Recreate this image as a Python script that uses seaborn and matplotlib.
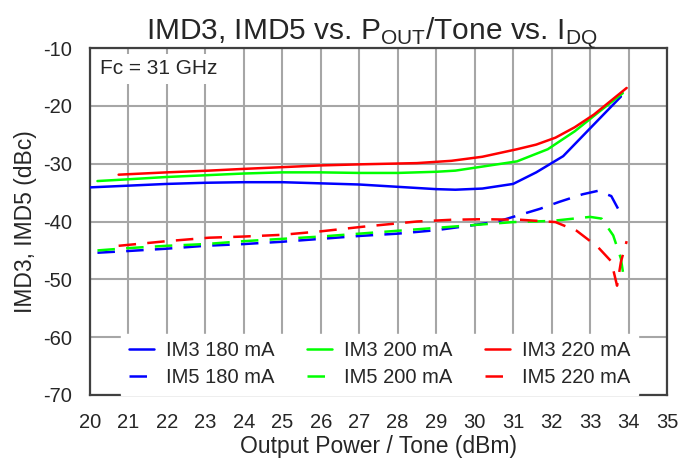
import pandas as pd
import seaborn as sns
import matplotlib.pyplot as plt
from matplotlib.lines import Line2D

# IM3 curves (solid) - output power per tone (dBm) vs dBc
p_im3_180 = [20.0, 21, 22, 23, 24, 25, 26, 27, 28, 29, 29.5, 30.2, 31.0, 31.6, 32.3, 33.1, 33.8]
im3_180 = [-34.1, -33.8, -33.5, -33.3, -33.2, -33.2, -33.4, -33.6, -34.0, -34.4, -34.5, -34.3, -33.5, -31.5, -28.7, -23.2, -18.4]

p_im3_200 = [20.2, 21, 22, 23, 24, 25, 26, 27, 28, 29, 29.5, 30.2, 31.1, 31.9, 32.6, 33.2, 33.85]
im3_200 = [-33.0, -32.7, -32.3, -32.0, -31.7, -31.5, -31.5, -31.6, -31.6, -31.4, -31.2, -30.5, -29.6, -27.5, -24.4, -21.2, -17.8]

p_im3_220 = [20.75, 22, 23.1, 24, 25, 26, 27.1, 28.5, 29.4, 30.2, 31.1, 31.6, 32.1, 32.6, 33.1, 33.95]
im3_220 = [-31.9, -31.5, -31.2, -30.9, -30.6, -30.3, -30.1, -29.9, -29.5, -28.8, -27.5, -26.7, -25.5, -23.7, -21.5, -16.9]

# IM5 curves (dashed)
p_im5_180 = [20.2, 21, 22, 23, 24, 25, 26, 27, 28, 29, 30, 30.6, 31.1, 31.7, 32.2, 32.8, 33.2, 33.55, 33.8]
im5_180 = [-45.4, -45.1, -44.7, -44.2, -43.9, -43.5, -43.0, -42.5, -42.1, -41.5, -40.6, -40.0, -39.0, -37.8, -36.6, -35.3, -34.7, -35.6, -38.7]

p_im5_200 = [20.2, 21, 22, 23, 24, 25, 26, 27, 28, 29, 30, 31, 32, 33, 33.3, 33.6, 33.8, 33.87]
im5_200 = [-45.0, -44.6, -44.2, -43.9, -43.4, -43.0, -42.6, -42.1, -41.6, -41.1, -40.6, -40.1, -39.9, -39.2, -39.5, -42.4, -46.4, -49.5]

p_im5_220 = [20.75, 22, 23.1, 24, 25, 26, 27.1, 28.5, 29.4, 30.2, 31.2, 32.1, 32.65, 33.2, 33.55, 33.7, 33.8, 33.95]
im5_220 = [-44.2, -43.4, -42.8, -42.6, -42.3, -41.7, -40.9, -40.0, -39.7, -39.6, -39.7, -40.1, -41.6, -44.4, -46.9, -51.1, -47.0, -43.4]

x_ticks = list(range(20, 36))
y_ticks = list(range(-70, 0, 10))

series = [
    ("IM3 180 mA", p_im3_180, im3_180, "#0000FF", "-"),
    ("IM5 180 mA", p_im5_180, im5_180, "#0000FF", "--"),
    ("IM3 200 mA", p_im3_200, im3_200, "#00FF00", "-"),
    ("IM5 200 mA", p_im5_200, im5_200, "#00FF00", "--"),
    ("IM3 220 mA", p_im3_220, im3_220, "#FF0000", "-"),
    ("IM5 220 mA", p_im5_220, im5_220, "#FF0000", "--"),
]

sns.set_style("white")
plt.rcParams["font.family"] = ["Liberation Sans", "DejaVu Sans"]
plt.rcParams["axes.unicode_minus"] = False
plt.rcParams["mathtext.fontset"] = "custom"
plt.rcParams["mathtext.rm"] = "Liberation Sans"

fig = plt.figure(figsize=(6.8, 4.58), dpi=100)
ax = fig.add_axes([0.132, 0.1376, 0.849, 0.7575])

handles = []
for name, px, py, col, ls in series:
    df = pd.DataFrame({"p": px, "v": py})
    sns.lineplot(data=df, x="p", y="v", ax=ax, color=col, sort=False,
                 linewidth=1.8, zorder=3)
    ln = ax.lines[-1]
    if ls == "--":
        ln.set_dashes((7, 4.5))
    handles.append(Line2D([], [], color=col, linewidth=1.8,
                          dashes=(7, 4.5) if ls == "--" else (None, None)))

ax.set_xlim(20, 35)
ax.set_ylim(-70, -10)
ax.set_xticks(x_ticks)
ax.set_yticks(y_ticks)
ax.grid(True, color="#A6A6A6", linewidth=1.5, zorder=0)
ax.set_axisbelow(True)
for s in ax.spines.values():
    s.set_color("#404040")
    s.set_linewidth(1.6)
ax.tick_params(axis="both", labelsize=14.5, direction="in", length=3,
               color="#404040", pad=13)

ax.set_xlabel("Output Power / Tone (dBm)", fontsize=16.5, labelpad=2)
ax.set_ylabel("IMD3, IMD5 (dBc)", fontsize=16.5, labelpad=4)
ax.set_title(r"IMD3, IMD5 vs. P$_{\mathregular{OUT}}$/Tone vs. I$_{\mathregular{DQ}}$",
             fontsize=21.5, pad=6, x=0.488)

ax.text(0.018, 0.94, "Fc = 31 GHz", transform=ax.transAxes, fontsize=15,
        va="center", ha="left", zorder=4,
        bbox=dict(facecolor="white", edgecolor="none", pad=4))

names = [s[0] for s in series]
leg = ax.legend(handles, names, ncol=3, loc="lower left",
                bbox_to_anchor=(0.054, 0.0, 0.896, 0.18), mode="expand",
                borderaxespad=0, fontsize=14.5, frameon=True, fancybox=False,
                framealpha=1, edgecolor="white", handlelength=1.25,
                labelspacing=0.4, borderpad=0.38, columnspacing=1.0,
                handletextpad=0.6)
leg.set_zorder(5)

fig.savefig("out.png", dpi=100)
